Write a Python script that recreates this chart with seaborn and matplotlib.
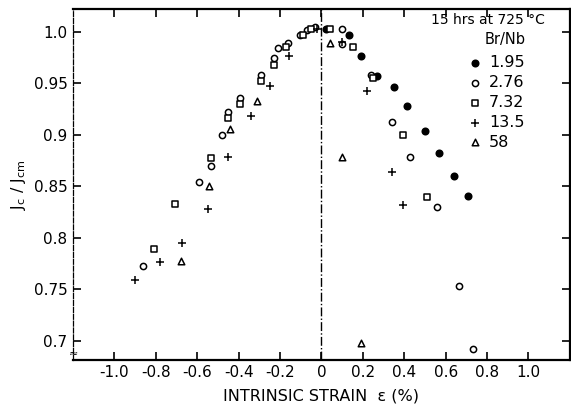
import numpy as np
import pandas as pd
import matplotlib
matplotlib.use("Agg")
import matplotlib.pyplot as plt
import seaborn as sns

# Br/Nb ratio series
labels = ["1.95", "2.76", "7.32", "13.5", "58"]

x_195 = [0.02, 0.135, 0.19, 0.27, 0.35, 0.415, 0.50, 0.57, 0.64, 0.71]
y_195 = [1.003, 0.997, 0.976, 0.957, 0.946, 0.928, 0.904, 0.882, 0.860, 0.841]

x_276 = [-0.86, -0.59, -0.535, -0.48, -0.45, -0.395, -0.29, -0.23, -0.21, -0.16,
         -0.105, -0.07, -0.03, 0.10, 0.10, 0.24, 0.34, 0.43, 0.56, 0.665, 0.73]
y_276 = [0.773, 0.854, 0.870, 0.900, 0.922, 0.936, 0.958, 0.974, 0.984, 0.989,
         0.997, 1.002, 1.005, 1.003, 0.988, 0.958, 0.912, 0.878, 0.830, 0.753, 0.692]

x_732 = [-0.81, -0.71, -0.535, -0.45, -0.395, -0.29, -0.23, -0.17, -0.09, -0.05,
         0.04, 0.15, 0.25, 0.395, 0.51]
y_732 = [0.789, 0.833, 0.877, 0.916, 0.930, 0.952, 0.968, 0.985, 0.997, 1.003,
         1.003, 0.985, 0.955, 0.900, 0.840]

x_135 = [-0.90, -0.78, -0.675, -0.55, -0.45, -0.34, -0.25, -0.155, -0.02, 0.10,
         0.22, 0.34, 0.395]
y_135 = [0.759, 0.777, 0.795, 0.828, 0.878, 0.918, 0.947, 0.976, 1.003, 0.990,
         0.942, 0.864, 0.832]

x_58 = [-0.68, -0.545, -0.44, -0.31, 0.04, 0.10, 0.19]
y_58 = [0.778, 0.850, 0.906, 0.933, 0.989, 0.878, 0.698]

xs = [x_195, x_276, x_732, x_135, x_58]
ys = [y_195, y_276, y_732, y_135, y_58]
frames = [pd.DataFrame({"strain": x, "jc": y, "ratio": lab})
          for x, y, lab in zip(xs, ys, labels)]
df = pd.concat(frames, ignore_index=True)

styles = {
    "1.95": dict(marker="o", facecolor="black", s=22),
    "2.76": dict(marker="o", facecolor="white", s=20),
    "7.32": dict(marker="s", facecolor="white", s=18),
    "13.5": dict(marker="+", facecolor="black", s=30),
    "58": dict(marker="^", facecolor="white", s=22),
}

sns.set_style("ticks")
plt.rcParams["font.family"] = ["DejaVu Sans"]
plt.rcParams["text.color"] = "black"
plt.rcParams["axes.labelcolor"] = "black"

fig, ax = plt.subplots(figsize=(5.71, 4.09), dpi=100)
fig.subplots_adjust(left=0.128, right=0.998, top=0.978, bottom=0.12)

for lab in labels:
    st = styles[lab]
    sns.scatterplot(data=df[df["ratio"] == lab], x="strain", y="jc", ax=ax,
                    marker=st["marker"], s=st["s"], color="black",
                    facecolor=st["facecolor"], edgecolor="black",
                    linewidth=1.1, label=lab, zorder=3)

ax.axvline(0, color="black", lw=1.0, ls="-.", zorder=1)

ax.set_xlim(-1.2, 1.2)
ax.set_ylim(0.6816, 1.022)
ax.set_xticks(np.arange(-1.0, 1.01, 0.2))
ax.set_xticklabels(["-1.0", "-0.8", "-0.6", "-0.4", "-0.2", "0",
                    "0.2", "0.4", "0.6", "0.8", "1.0"])
ax.set_yticks([0.7, 0.75, 0.8, 0.85, 0.9, 0.95, 1.0])
ax.set_yticklabels(["0.7", "0.75", "0.8", "0.85", "0.9", "0.95", "1.0"])
ax.tick_params(direction="in", length=6, width=1.2, labelsize=11,
               top=True, right=True, colors="black", labelcolor="black", pad=4)

for side in ["top", "bottom", "right", "left"]:
    ax.spines[side].set_color("black")
for side in ["top", "bottom", "right"]:
    ax.spines[side].set_linewidth(1.6)
ax.spines["left"].set_linewidth(0.9)
ax.spines["left"].set_linestyle((0, (4, 1.5)))

ax.set_xlabel("INTRINSIC STRAIN  \u03b5 (%)", fontsize=11.5, labelpad=6,
              color="black")
ax.set_ylabel("J$_{\\rm c}$ / J$_{\\rm cm}$", fontsize=11.5, labelpad=4,
              color="black")

# axis break mark at the bottom of the y axis
ax.text(0.0, 0.018, "\u2248", transform=ax.transAxes,
        ha="center", va="center", fontsize=8, clip_on=False)

ax.text(0.95, 0.99, "15 hrs at 725 \u00b0C", transform=ax.transAxes,
        ha="right", va="top", fontsize=10)
ax.text(0.87, 0.935, "Br/Nb", transform=ax.transAxes,
        ha="center", va="top", fontsize=10.5)
leg = ax.legend(loc="upper left", bbox_to_anchor=(0.77, 0.895), frameon=False,
                fontsize=11.5, handletextpad=0.3, labelspacing=0.3,
                handlelength=1.2, borderpad=0.1)
for t in leg.get_texts():
    t.set_color("black")

fig.savefig("out.png", dpi=100)
